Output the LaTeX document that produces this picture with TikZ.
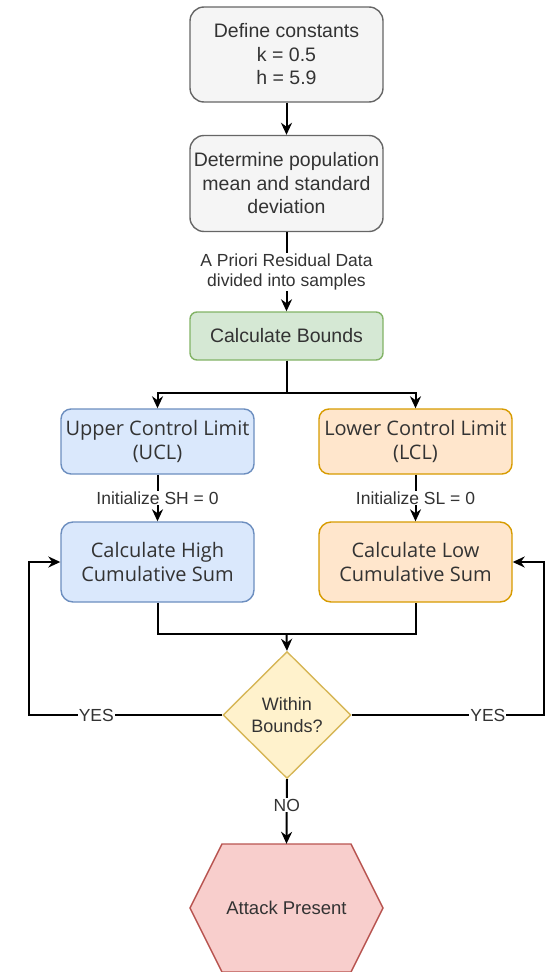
\documentclass[tikz,border=0pt]{standalone}
\usepackage{fontspec}
\setmainfont{Liberation Sans}
\newfontfamily\uifont{Open Sans}
\usetikzlibrary{arrows.meta,shapes.geometric}

\definecolor{greyfill}{HTML}{F5F5F5}
\definecolor{greyline}{HTML}{666666}
\definecolor{textgrey}{HTML}{333333}
\definecolor{greenfill}{HTML}{D5E8D4}
\definecolor{greenline}{HTML}{82B366}
\definecolor{bluefill}{HTML}{DAE8FC}
\definecolor{blueline}{HTML}{6C8EBF}
\definecolor{orangefill}{HTML}{FFE6CC}
\definecolor{orangeline}{HTML}{D79B00}
\definecolor{yellowfill}{HTML}{FFF2CC}
\definecolor{yellowline}{HTML}{D6B656}
\definecolor{redfill}{HTML}{F8CECC}
\definecolor{redline}{HTML}{B85450}

\begin{document}
\begin{tikzpicture}[x=1pt,y=-1pt,
	box/.style={draw=greyline,fill=greyfill,rounded corners=14pt,line width=1.4pt,minimum width=193pt,align=center,text=textgrey,font=\fontsize{19.5}{23.5}\selectfont},
	uibox/.style={box,font=\uifont\fontsize{20}{24}\selectfont},
	lbl/.style={fill=white,inner sep=1pt,text=textgrey,align=center,font=\fontsize{17.5}{19.5}\selectfont},
	arr/.style={line width=2pt,-{Stealth[length=12pt,width=11pt]}},
	line/.style={line width=2pt}]
	\useasboundingbox (0,0) rectangle (545,972);
	% setup
	\node[box,minimum height=95pt] (consts) at (286.5,54.5) {Define constants\\k = 0.5\\h = 5.9};
	\node[box,minimum height=96pt] (popstats) at (286.5,183.5) {Determine population\\mean and standard\\deviation};
	\node[box,fill=greenfill,draw=greenline,rounded corners=7pt,minimum height=48pt] (bounds) at (286.5,336) {Calculate Bounds};
	% control limits
	\node[uibox,fill=bluefill,draw=blueline,rounded corners=10pt,minimum height=65pt] (ucl) at (157.5,441.5) {Upper Control Limit\\(UCL)};
	\node[uibox,fill=orangefill,draw=orangeline,rounded corners=10pt,minimum height=65pt] (lcl) at (415.5,441.5) {Lower Control Limit\\(LCL)};
	\node[uibox,fill=bluefill,draw=blueline,rounded corners=12pt,minimum height=80pt] (highsum) at (157.5,562) {Calculate High\\Cumulative Sum};
	\node[uibox,fill=orangefill,draw=orangeline,rounded corners=12pt,minimum height=80pt] (lowsum) at (415.5,562) {Calculate Low\\Cumulative Sum};
	% decision
	\node[diamond,draw=yellowline,fill=yellowfill,line width=1.4pt,inner sep=0pt,minimum width=128pt,minimum height=127pt,align=center,text=textgrey,font=\fontsize{18}{22}\selectfont] (inbounds) at (287,715) {Within\\Bounds?};
	\filldraw[draw=redline,fill=redfill,line width=1.4pt] (190,908) -- (222,844) -- (351,844) -- (383,908) -- (351,972) -- (222,972) -- cycle; % hexagon
	\node[minimum width=193pt,minimum height=128pt,text=textgrey,font=\fontsize{18.5}{22}\selectfont] (attack) at (286.5,908) {Attack Present};
	\coordinate (merge) at (286.5,634);
	\coordinate (loopl) at (28.5,562);
	\coordinate (loopr) at (543.5,562);
	% connectors
	\draw[arr] (consts) -- (popstats);
	\draw[arr] (popstats) -- node[lbl] {A Priori Residual Data\\divided into samples} (bounds);
	\draw[arr] (bounds.south) -- ++(0,32) -| (ucl.north);
	\draw[arr] (bounds.south) -- ++(0,32) -| (lcl.north);
	\draw[arr] (ucl) -- node[lbl] {Initialize SH = 0} (highsum);
	\draw[arr] (lcl) -- node[lbl] {Initialize SL = 0} (lowsum);
	\draw[line] (highsum.south) |- (merge) -| (lowsum.south);
	\draw[arr] (merge) -- (inbounds.north);
	\draw[arr] (inbounds.west) -- node[lbl,pos=0.65] {YES} (inbounds.west -| loopl) -- (loopl) -- (highsum.west);
	\draw[arr] (inbounds.east) -- node[lbl,pos=0.71] {YES} (inbounds.east -| loopr) -- (loopr) -- (lowsum.east);
	\draw[arr] (inbounds.south) -- node[lbl,pos=0.4] {NO} (attack.north);
\end{tikzpicture}
\end{document}
